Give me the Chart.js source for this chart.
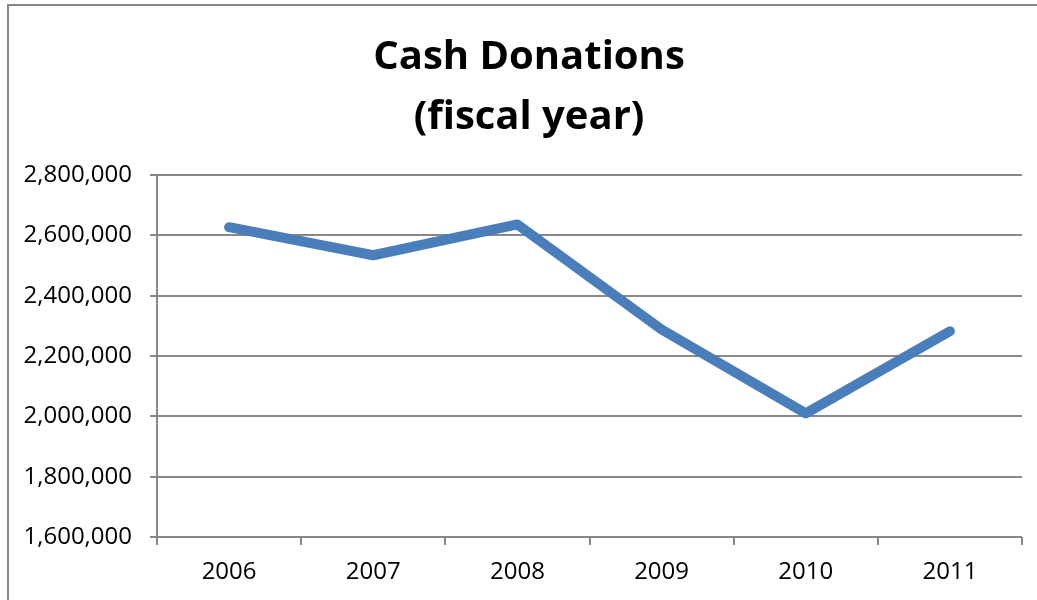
<!DOCTYPE html>
<html>
<head>
<meta charset="utf-8">
<script src="https://cdn.jsdelivr.net/npm/chart.js@4/dist/chart.umd.min.js"></script>
<style>
    body{margin:0;background:#fff;overflow:hidden}
    .wrap{position:relative;width:1037px;height:600px}
    .frame{position:absolute;left:7px;top:4px;width:1100px;height:700px;border-left:2px solid #868686;border-top:2px solid #868686;pointer-events:none}
</style>
</head>
<body>
<div class="wrap">
    <canvas id="myChart" width="1037" height="600"></canvas>
    <div class="frame"></div>
</div>
<script>
// data
let years = ['2006', '2007', '2008', '2009', '2010', '2011']
let donations = [2627000, 2534000, 2636000, 2288000, 2010000, 2282000]
let titleLines = ['Cash Donations', '(fiscal year)']

let gridColor = '#888888'

// title sits a bit right of the canvas middle in the original
let titleShift = {
    id: 'titleShift',
    afterLayout: (chart)=>{
        if (chart.titleBlock) chart.titleBlock.left = 36
    }
}

let OnSetChart = ()=>{
    const data = {
        labels: years,
        datasets: [{
            label: 'Cash Donations',
            data: donations,
            borderColor: '#4a7ebb',
            borderWidth: 10,
            borderCapStyle: 'round',
            borderJoinStyle: 'round',
            pointRadius: 0,
            tension: 0
        }]
    };

    // config
    const config = {
        type: 'line',
        data,
        plugins: [titleShift],
        options: {
            responsive: false,
            animation: false,
            layout: {padding: {left: 0, right: 15, top: 0, bottom: 0}},
            plugins: {
                legend: {display: false},
                tooltip: {enabled: false},
                title: {
                    display: true,
                    text: titleLines,
                    color: '#000',
                    font: {family: '"Open Sans"', size: 40, weight: 'bold', lineHeight: '60px'},
                    padding: {top: 28, bottom: 27}
                }
            },
            scales: {
                x: {
                    offset: true,
                    grid: {offset: true, drawOnChartArea: false, color: gridColor, lineWidth: 2, tickLength: 8},
                    border: {display: false},
                    ticks: {color: '#000', padding: 13, font: {family: '"Open Sans"', size: 24}, maxRotation: 0},
                    afterFit: (s)=>{ s.height = 63 }
                },
                y: {
                    min: 1600000,
                    max: 2800000,
                    grid: {color: gridColor, lineWidth: 2, tickLength: 7},
                    border: {color: gridColor, width: 2},
                    ticks: {
                        stepSize: 200000,
                        color: '#000',
                        padding: 18,
                        font: {family: '"Open Sans"', size: 24},
                        callback: (v)=>v.toLocaleString('en-US')
                    },
                    afterFit: (s)=>{ s.width = 157 }
                }
            }
        }
    };

    // render init block
    new Chart(document.getElementById('myChart'), config);
}

OnSetChart()
</script>
</body>
</html>
